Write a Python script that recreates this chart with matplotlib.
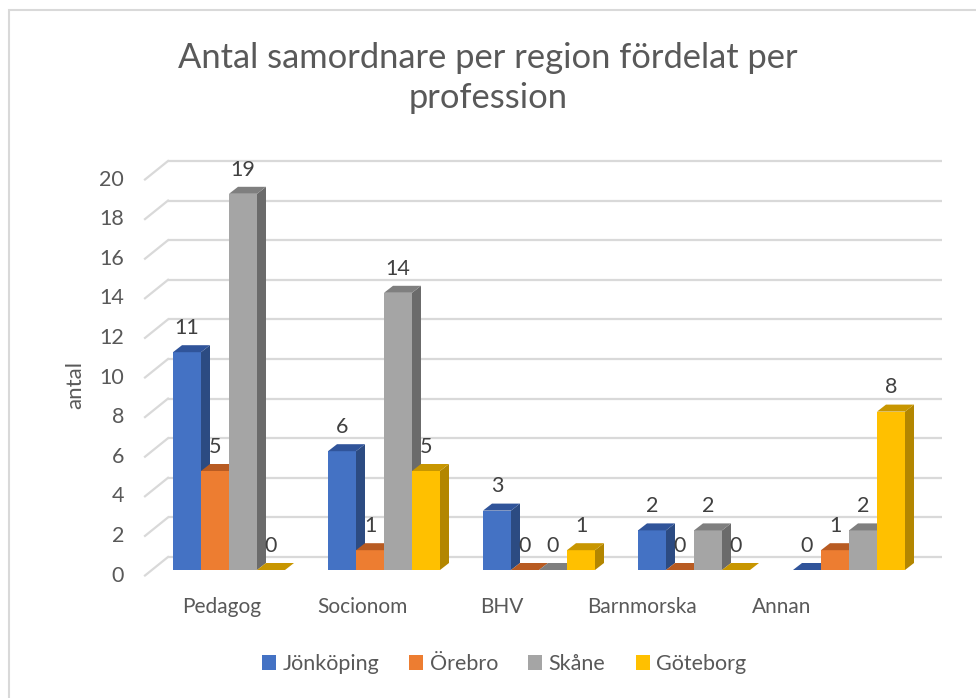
import numpy as np
import matplotlib.pyplot as plt
from matplotlib.patches import Polygon, Patch, Rectangle

plt.rcParams['font.family'] = ['Lato', 'DejaVu Sans']

# Data
categories = ['Pedagog', 'Socionom', 'BHV', 'Barnmorska', 'Annan']
regions = ['Jönköping', 'Örebro', 'Skåne', 'Göteborg']
jonkoping = [11, 6, 3, 2, 0]
orebro = [5, 1, 0, 0, 1]
skane = [19, 14, 0, 2, 2]
goteborg = [0, 5, 1, 0, 8]
yticks = [0, 2, 4, 6, 8, 10, 12, 14, 16, 18, 20]

series = [jonkoping, orebro, skane, goteborg]
front_cols = ['#4472C4', '#ED7D31', '#A5A5A5', '#FFC000']
side_cols = ['#2C4B82', '#AE5A21', '#6B6B6B', '#B38600']
top_cols = ['#30549A', '#B85B22', '#7F7F7F', '#C89600']
txt_col = '#595959'
grid_col = '#D9D9D9'

fig = plt.figure(figsize=(9.76, 6.98), dpi=100)
# plot region in pixels: x 140..945, y 150..600
ax = fig.add_axes([140 / 976, 98 / 698, 805 / 976, 450 / 698])
PX = 1 / 155.0   # data-x per pixel
PY = 1 / 19.8    # data-y per pixel
ax.set_xlim(-89 * PX, 716 * PX)
ax.set_ylim(-30 * PY, 420 * PY)
ax.axis('off')

# back wall gridlines and floor diagonals
x_front = -84 * PX
x_back = -61 * PX
x_right = 713 * PX
for v in yticks:
    yb = v + 13 * PY
    yf = v - 5.5 * PY
    ax.plot([x_back, x_right], [yb, yb], color=grid_col, lw=1.6, zorder=1, solid_capstyle='butt')
    ax.plot([x_front, x_back], [yf, yb], color=grid_col, lw=1.6, zorder=1)
    ax.text(-105 * PX, yf, str(v), ha='right', va='center', fontsize=15.5, color=txt_col)

# bars (pseudo 3d)
w = 28 * PX
dx = 9 * PX
dy = 7 * PY
idx = np.arange(len(categories))
for k, vals in enumerate(series):
    xs = idx + (k - 1.5) * w
    z = 2 + k
    ax.bar(xs, vals, width=w, color=front_cols[k], zorder=z, linewidth=0)
    for x, v in zip(xs, vals):
        x0, x1 = x - w / 2, x + w / 2
        if v > 0:
            ax.add_patch(Polygon([(x1, 0), (x1 + dx, dy), (x1 + dx, v + dy), (x1, v)],
                                 closed=True, facecolor=side_cols[k], edgecolor='none', zorder=z))
        ax.add_patch(Polygon([(x0, v), (x0 + dx, v + dy), (x1 + dx, v + dy), (x1, v)],
                             closed=True, facecolor=top_cols[k], edgecolor='none', zorder=z))
        ax.text(x, v + 1.22, str(v), ha='center', va='center', fontsize=15.5,
                color='#404040', zorder=10)

# category labels (perspective shrink at the floor front edge)
for i, c in enumerate(categories):
    ax.text(-0.045 + 0.903 * i, -37 * PY, c, ha='center', va='center', fontsize=15, color=txt_col)

fig.text(75 / 976, 1 - 385 / 698, 'antal', rotation=90, ha='center', va='center',
         fontsize=16, color=txt_col)

fig.text(488 / 976, 1 - 78 / 698, 'Antal samordnare per region fördelat per\nprofession',
         ha='center', va='center', fontsize=24.8, color=txt_col, linespacing=1.3)

handles = [Patch(facecolor=front_cols[k], edgecolor='none', label=regions[k]) for k in range(4)]
fig.legend(handles=handles, loc='center', bbox_to_anchor=(504 / 976, 1 - 664 / 698), ncol=4,
           frameon=False, fontsize=15.5, handlelength=0.65, handleheight=0.65,
           handletextpad=0.3, columnspacing=1.4, labelcolor=txt_col)

fig.patches.append(Rectangle((9 / 976, -0.1), 1.2, 1.1 - 10 / 698, transform=fig.transFigure,
                             fill=False, edgecolor=grid_col, lw=1.5))

fig.savefig('out.png', dpi=100)
